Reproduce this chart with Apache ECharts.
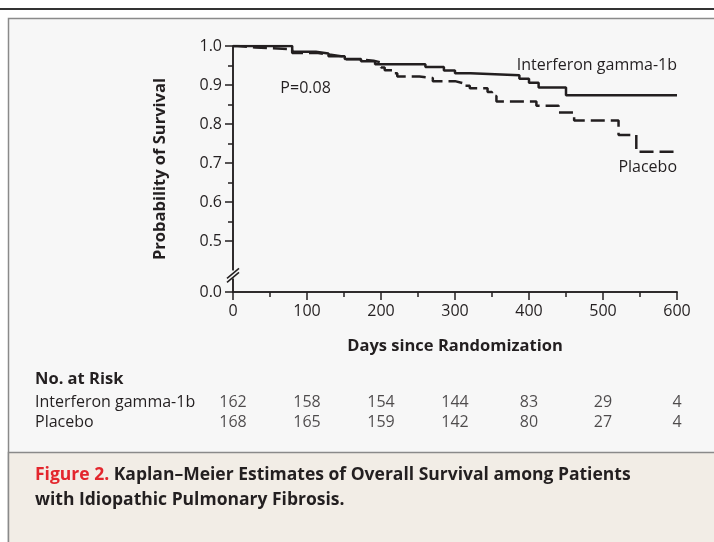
<!DOCTYPE html>
<html><head><meta charset="utf-8">
<script src="https://cdn.jsdelivr.net/npm/echarts@6/dist/echarts.min.js"></script>
<style>html,body{margin:0;padding:0;background:#fff}#c{width:714px;height:542px}</style>
</head><body><div id="c"></div>
<script>
// ---------- data ----------
const xTicks = [0, 100, 200, 300, 400, 500, 600];
const xMinorTicks = [50, 150, 250, 350, 450, 550];
const yTickLabels = [0.5, 0.6, 0.7, 0.8, 0.9, 1.0];
const yMinorTicks = [0.55, 0.65, 0.75, 0.85, 0.95];
const riskGroups = ['Interferon gamma-1b', 'Placebo'];
const riskInterferon = [162, 158, 154, 144, 83, 29, 4];
const riskPlacebo = [168, 165, 159, 142, 80, 27, 4];
// Kaplan-Meier steps: [day, survival after that day]
const interferonSurvival = [[0,1.0],[80,0.985],[112,0.981],[129,0.974],[151,0.967],[173,0.961],[192,0.953],[260,0.946],[285,0.937],[300,0.93],[321,0.925],[387,0.916],[400,0.906],[413,0.894],[450,0.874],[600,0.874]];
const placeboSurvival = [[0,1.0],[6,0.996],[30,0.992],[80,0.982],[115,0.978],[130,0.973],[150,0.966],[170,0.962],[190,0.958],[200,0.945],[205,0.938],[215,0.93],[222,0.922],[252,0.918],[270,0.91],[300,0.905],[310,0.898],[320,0.892],[344,0.882],[350,0.872],[356,0.858],[410,0.847],[440,0.83],[461,0.809],[521,0.772],[545,0.729],[600,0.729]];
const BREAK_ZERO = 0.37; // axis position used for the "0.0" label below the break

// ---------- styling ----------
const FONT = "'Open Sans', 'Noto Sans', sans-serif";
const INK = '#231f20';
const chart = echarts.init(document.getElementById('c'), null, {renderer: 'canvas'});

const axisLine = {show: true, onZero: false, lineStyle: {color: INK, width: 1.5}};
const option = {
  backgroundColor: '#ffffff',
  animation: false,
  textStyle: {fontFamily: FONT, color: INK},
  grid: [
    {left: 233, right: 37, top: 46, height: 246},
    {left: 233, right: 37, top: 392, height: 40}
  ],
  xAxis: [
    {gridIndex: 0, type: 'value', position: 'bottom', min: 0, max: 600, interval: 100,
     axisLine, splitLine: {show: false},
     axisTick: {show: true, length: 8, lineStyle: {color: INK, width: 1.5}},
     axisLabel: {fontSize: 16, color: INK, margin: 11, fontFamily: FONT},
     name: 'Days since Randomization', nameLocation: 'middle', nameGap: 46,
     nameTextStyle: {fontSize: 16.5, fontWeight: 'bold', color: INK, fontFamily: FONT}},
    {gridIndex: 0, type: 'value', position: 'bottom', min: 0, max: 600,
     axisLine, splitLine: {show: false},
     axisTick: {show: true, length: 5, customValues: xMinorTicks, lineStyle: {color: INK, width: 1.5}},
     axisLabel: {show: false}},
    {gridIndex: 1, type: 'value', min: 0, max: 600, show: false}
  ],
  yAxis: [
    {gridIndex: 0, type: 'value', position: 'left', min: BREAK_ZERO, max: 1.0,
     axisLine, splitLine: {show: false},
     axisTick: {show: true, length: 8, customValues: [BREAK_ZERO].concat(yTickLabels), lineStyle: {color: INK, width: 1.5}},
     axisLabel: {customValues: [BREAK_ZERO].concat(yTickLabels), fontSize: 16, color: INK, margin: 11, fontFamily: FONT,
       formatter: v => (v < 0.45 ? '0.0' : Number(v).toFixed(1))},
     name: 'Probability of Survival', nameLocation: 'middle', nameGap: 64,
     nameTextStyle: {fontSize: 16.5, fontWeight: 'bold', color: INK, fontFamily: FONT}},
    {gridIndex: 0, type: 'value', position: 'left', min: BREAK_ZERO, max: 1.0,
     axisLine, splitLine: {show: false},
     axisTick: {show: true, length: 5, customValues: yMinorTicks, lineStyle: {color: INK, width: 1.5}},
     axisLabel: {show: false}},
    {gridIndex: 1, type: 'category', data: riskGroups, inverse: true,
     axisLine: {show: false}, axisTick: {show: false}, splitLine: {show: false},
     axisLabel: {interval: 0, hideOverlap: false, align: 'left', margin: 198, fontSize: 16, color: INK, fontFamily: FONT}}
  ],
  series: [
    {name: 'Interferon gamma-1b', type: 'line', step: 'end', xAxisIndex: 0, yAxisIndex: 0,
     symbol: 'none', data: interferonSurvival, lineStyle: {color: INK, width: 2.5}, z: 3},
    {name: 'Placebo', type: 'line', step: 'end', xAxisIndex: 0, yAxisIndex: 0,
     symbol: 'none', data: placeboSurvival, lineStyle: {color: INK, width: 2.5, type: [14, 6]}, z: 3},
    {type: 'scatter', xAxisIndex: 2, yAxisIndex: 2, symbolSize: 0,
     data: xTicks.map((d, i) => [d, riskGroups[0], riskInterferon[i]]),
     label: {show: true, position: 'inside', formatter: p => p.value[2], fontSize: 16, color: INK, fontFamily: FONT}},
    {type: 'scatter', xAxisIndex: 2, yAxisIndex: 2, symbolSize: 0,
     data: xTicks.map((d, i) => [d, riskGroups[1], riskPlacebo[i]]),
     label: {show: true, position: 'inside', formatter: p => p.value[2], fontSize: 16, color: INK, fontFamily: FONT}}
  ]
};
chart.setOption(option);

// annotations anchored through the axes
const px = (d, s) => chart.convertToPixel({xAxisIndex: 0, yAxisIndex: 0}, [d, s]);
const pInterferon = px(600, 0.95);
const pPlacebo = px(600, 0.689);
const pP = px(64, 0.892);
const pBreak = px(0, 0.415);

chart.setOption({
  graphic: [
    {type: 'rect', z: -10, silent: true, shape: {x: 0, y: 8, width: 714, height: 2}, style: {fill: '#333'}},
    {type: 'rect', z: -10, silent: true, shape: {x: 8.5, y: 18.5, width: 720, height: 540}, style: {fill: '#f7f7f7', stroke: '#8a8a8a', lineWidth: 1.5}},
    {type: 'rect', z: -9, silent: true, shape: {x: 8.5, y: 452.5, width: 720, height: 100}, style: {fill: '#f2ede6', stroke: '#8a8a8a', lineWidth: 1.5}},
    {type: 'text', z: 5, style: {x: 35, y: 379, text: 'No. at Risk', font: "bold 16.5px " + FONT, fill: INK, verticalAlign: 'middle'}},
    {type: 'text', z: 5, style: {x: 35, y: 488, text: '{r|Figure 2.} Kaplan\u2013Meier Estimates of Overall Survival among Patients\nwith Idiopathic Pulmonary Fibrosis.',
      font: "bold 17.5px " + FONT, fill: INK, lineHeight: 25, verticalAlign: 'middle',
      rich: {r: {fill: '#e3262d', font: "bold 17.5px " + FONT}}}},
    {type: 'text', z: 5, style: {x: pInterferon[0], y: pInterferon[1], text: 'Interferon gamma-1b', font: "16px " + FONT, fill: INK, align: 'right', verticalAlign: 'middle'}},
    {type: 'text', z: 5, style: {x: pPlacebo[0], y: pPlacebo[1], text: 'Placebo', font: "16px " + FONT, fill: INK, align: 'right', verticalAlign: 'middle'}},
    {type: 'text', z: 5, style: {x: pP[0], y: pP[1], text: 'P=0.08', font: "16px " + FONT, fill: INK, align: 'left', verticalAlign: 'middle'}},
    // axis break marks
    {type: 'rect', z: 5, silent: true, shape: {x: pBreak[0] - 3, y: pBreak[1] - 4, width: 6, height: 8}, style: {fill: '#f7f7f7'}},
    {type: 'line', z: 6, silent: true, shape: {x1: pBreak[0] - 6, y1: pBreak[1] + 4, x2: pBreak[0] + 6, y2: pBreak[1] - 6}, style: {stroke: INK, lineWidth: 1.5}},
    {type: 'line', z: 6, silent: true, shape: {x1: pBreak[0] - 6, y1: pBreak[1] + 8, x2: pBreak[0] + 6, y2: pBreak[1] - 2}, style: {stroke: INK, lineWidth: 1.5}}
  ]
});
</script></body></html>
